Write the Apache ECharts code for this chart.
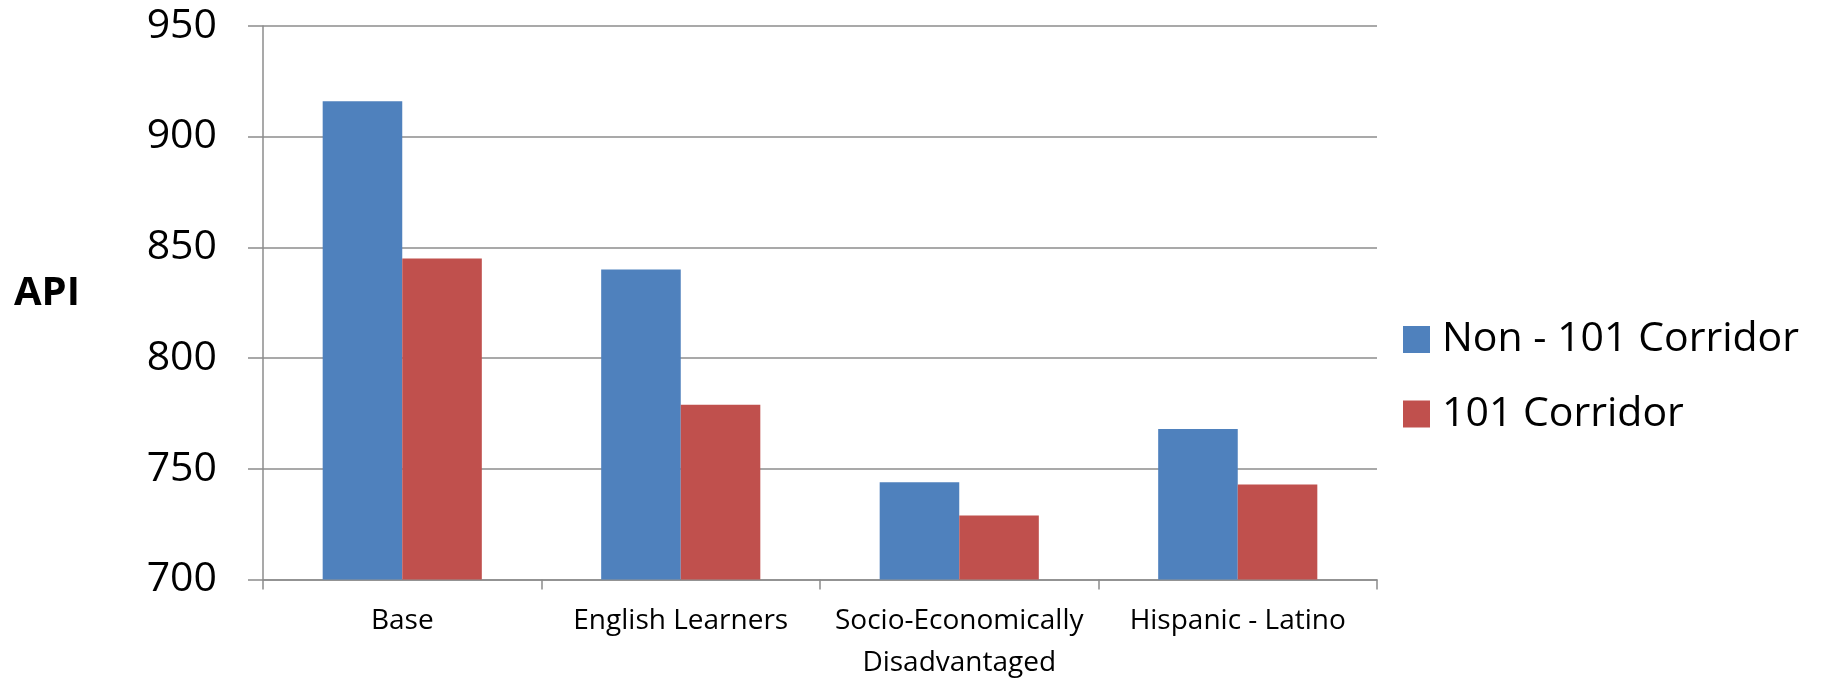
<!DOCTYPE html>
<html>
<head>
<meta charset="utf-8">
<script src="https://cdn.jsdelivr.net/npm/echarts@6/dist/echarts.min.js"></script>
<style>
html,body{margin:0;padding:0;background:#fff;}
#c{width:1824px;height:678px;}
</style>
</head>
<body>
<div id="c"></div>
<script>
const categories = ['Base', 'English Learners', 'Socio-Economically\nDisadvantaged', 'Hispanic - Latino'];
const seriesNames = ['Non - 101 Corridor', '101 Corridor'];
const non101 = [916, 840, 744, 768];
const corridor101 = [845, 779, 729, 743];
const yTicks = { min: 700, max: 950, interval: 50 };
const axisTitle = 'API';

const font = '"Open Sans", "Noto Sans", sans-serif';
const gray = '#8c8c8c';
const chart = echarts.init(document.getElementById('c'), null, { renderer: 'canvas' });
chart.setOption({
  animation: false,
  backgroundColor: '#ffffff',
  color: ['#4F81BD', '#C0504D'],
  grid: { left: 263, right: 447, top: 26, bottom: 98.4, containLabel: false, outerBoundsMode: 'none' },
  legend: {
    orient: 'vertical',
    left: 1398,
    top: 314,
    itemWidth: 27,
    itemHeight: 27,
    itemGap: 33.5,
    icon: 'rect',
    textStyle: { fontFamily: font, fontSize: 41, color: '#000', lineHeight: 40, padding: [0, 0, 0, 7] },
    data: seriesNames
  },
  graphic: [{
    type: 'text',
    left: 14,
    top: 274,
    style: { text: axisTitle, font: 'bold 40px ' + font, fill: '#000' }
  }],
  xAxis: {
    type: 'category',
    data: categories,
    axisLine: { lineStyle: { color: gray, width: 1.5 } },
    axisTick: { show: true, length: 10, lineStyle: { color: gray, width: 1.5 } },
    axisLabel: { interval: 0, fontFamily: font, fontSize: 28, color: '#000', lineHeight: 42, margin: 20 },
    splitLine: { show: false }
  },
  yAxis: {
    type: 'value',
    min: yTicks.min,
    max: yTicks.max,
    interval: yTicks.interval,
    axisLine: { show: true, lineStyle: { color: gray, width: 1.5 } },
    axisTick: { show: true, length: 15, lineStyle: { color: gray, width: 1.5 } },
    axisLabel: { fontFamily: font, fontSize: 41, color: '#000', margin: 46 },
    splitLine: { show: true, lineStyle: { color: gray, width: 1.5 } }
  },
  series: [
    { name: seriesNames[0], type: 'bar', data: non101, barGap: '0%', barCategoryGap: '42.86%' },
    { name: seriesNames[1], type: 'bar', data: corridor101, barGap: '0%', barCategoryGap: '42.86%' }
  ]
});
</script>
</body>
</html>
